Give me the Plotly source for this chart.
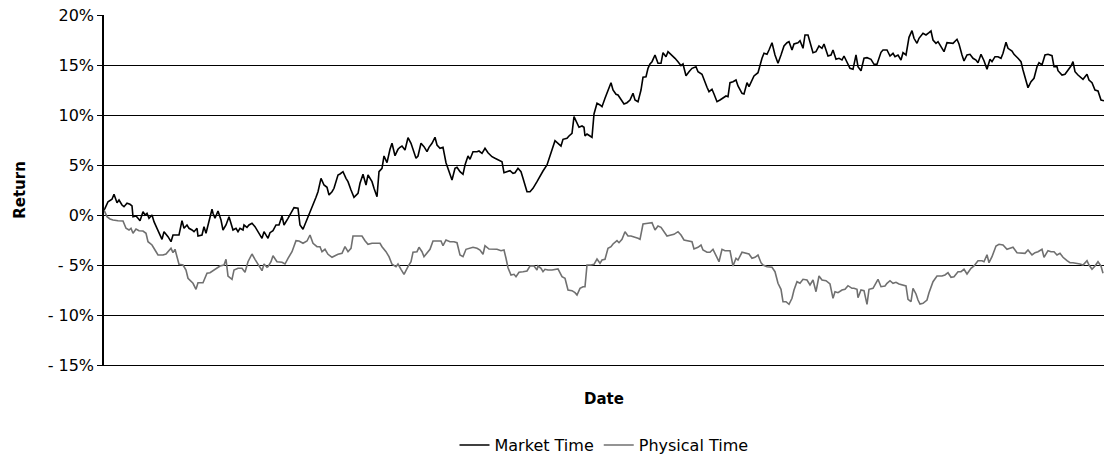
import plotly.graph_objects as go

# Trading-day index (x) and cumulative returns (%)
market_day = [0, 1, 4, 8, 10, 13, 15, 18, 20, 23, 26, 28, 29, 32, 34, 36, 39, 41, 43, 45, 48, 50, 53, 55, 58, 60, 63, 64, 67, 69, 72, 75, 78, 80, 83, 85, 88, 90, 93, 94, 98, 100, 102, 104, 108, 109, 111, 114, 117, 119, 122, 125, 127, 129, 132, 134, 136, 139, 140, 143, 145, 148, 151, 154, 158, 160, 163,
              164, 166, 169, 172, 175, 178, 180, 184, 187, 190, 194, 196, 199, 203, 206, 209, 212, 214, 217, 220, 223, 225, 228, 230, 234, 236, 239, 242, 244, 247, 250, 254, 256, 259, 262, 264, 268, 270, 273, 275, 278, 280, 283, 286, 288, 291, 294, 296, 298, 301, 304, 307, 309, 312, 314, 317, 320, 323, 325, 328, 331,
              333, 336, 339, 342, 344, 348, 351, 353, 356, 359, 361, 364, 366, 369, 373, 375, 378, 381, 384, 388, 391, 394, 398, 400, 403, 406, 409, 411, 414, 417, 419, 423, 426, 429, 433, 436, 439, 443, 446, 449, 451, 454, 457, 459, 463, 465, 468, 470, 473, 475, 478, 480, 481, 483, 486, 488, 490, 493, 496,
              498, 501, 504, 507, 509, 512, 514, 517, 520, 523, 526, 529, 531, 534, 537, 539, 542, 544, 546, 548, 551, 554, 557, 559, 562, 564, 568, 571, 574, 577, 579, 582, 585, 588, 592, 594, 598, 600, 603, 605, 608, 610, 613, 616, 619, 622, 624, 626, 629, 632, 634, 638, 640, 643, 645, 648, 650, 654, 656, 658, 660,
              663, 665, 668, 671, 674, 677, 680, 683, 685, 688, 690, 694, 696, 699, 701, 704, 707, 709, 712, 715, 718, 720, 724, 727, 729, 732, 735, 738, 740, 743, 746, 749, 752, 754, 757, 760, 763, 767, 770, 773, 777, 779, 783, 786, 789, 791, 794, 797, 799, 802, 805, 808, 810, 813, 815, 819, 822, 825,
              827, 829, 832, 834, 837, 840, 843, 847, 849, 853, 855, 858, 860, 863, 866, 869, 872, 874, 877, 880, 883, 886, 888, 891, 894, 897, 899, 902, 904, 908, 910, 914, 917, 919, 922, 924, 927, 930, 933, 935, 938, 941, 944, 948, 950, 953, 954, 958, 961, 964, 967, 969, 971, 974, 977, 979, 983, 985, 988, 991, 994, 997, 1000]
market_ret = [0.5, 0.67, 1.33, 1.57, 2.07, 1.23, 1.5, 1.0, 0.83, 1.17, 1.07, 0.9, -0.17, -0.1, -0.33, -0.57, 0.33, 0.0, 0.17, -0.33, 0.0, -0.67, -1.33, -1.77, -2.43, -1.67, -2.0, -2.17, -2.67, -2.0, -2.0, -2.0, -0.57, -1.33, -1.0, -1.33, -1.5, -1.67, -1.33, -2.1, -2.0, -1.17, -1.83, -1.0, 0.57, 0.17, -0.33, 0.4, -0.5, -1.5, -1.0, -0.17, -0.83, -1.5, -1.33, -1.67, -1.33, -1.5, -1.0, -1.23, -1.0, -0.83, -1.17, -1.67, -2.33, -1.67, -2.23,
              -2.33, -1.77, -1.57, -1.0, -1.0, -0.1, -1.0, -0.33, 0.23, 0.73, 0.67, -1.0, -1.43, -0.5, 0.33, 1.0, 1.77, 2.33, 3.67, 3.0, 2.77, 2.0, 2.33, 2.67, 4.0, 4.1, 4.33, 3.67, 3.33, 2.5, 1.77, 2.17, 3.17, 4.07, 3.0, 4.0, 3.33, 2.67, 1.83, 4.33, 4.67, 5.9, 5.23, 6.57, 7.17, 5.93, 6.57, 6.77, 6.9, 6.5, 7.73, 7.17, 6.57, 5.67, 5.9, 7.17, 6.83, 6.33, 6.77, 7.17, 7.77,
              7.0, 6.67, 6.77, 5.23, 4.67, 3.5, 4.67, 4.77, 4.33, 4.07, 5.0, 5.9, 5.57, 6.33, 6.33, 6.4, 6.17, 6.67, 6.23, 5.83, 5.67, 5.5, 5.33, 4.23, 4.33, 4.43, 4.17, 4.23, 4.67, 4.33, 3.67, 2.33, 2.33, 2.67, 3.33, 3.9, 4.4, 5.0, 6.0, 6.83, 7.43, 7.17, 6.9, 7.57, 7.67, 7.9, 8.17, 9.83, 9.23, 8.77, 8.9, 8.77, 7.9, 8.1, 7.9, 7.77, 10.1, 11.17, 11.0,
              10.83, 11.67, 12.5, 13.23, 12.5, 12.07, 12.0, 11.5, 11.1, 11.23, 11.5, 12.17, 11.5, 11.33, 12.5, 13.77, 13.83, 14.67, 15.1, 15.33, 16.0, 15.17, 15.17, 16.23, 15.83, 16.33, 16.0, 15.67, 15.33, 14.93, 15.1, 13.93, 14.33, 14.67, 14.83, 14.33, 14.07, 13.5, 12.77, 12.33, 12.57, 12.1, 11.33, 11.5, 11.67, 11.9, 11.83, 13.23, 13.33, 13.5, 12.9, 12.17, 12.1, 13.23, 12.83, 13.43, 13.9, 14.23, 15.1, 15.67, 16.17,
              16.07, 16.5, 17.23, 16.0, 15.17, 16.0, 16.9, 17.23, 17.33, 16.5, 17.1, 17.23, 17.43, 16.67, 18.0, 18.0, 17.0, 16.23, 16.33, 16.9, 16.67, 17.1, 15.9, 16.0, 16.5, 15.57, 15.67, 15.5, 15.9, 15.33, 14.67, 14.57, 16.0, 14.83, 14.43, 15.67, 15.73, 15.57, 15.07, 15.07, 16.27, 16.5, 16.5, 15.9, 16.17, 15.83, 16.0, 15.5, 16.23, 16.0, 17.77, 18.43, 17.67, 17.17, 17.67, 18.17, 18.0, 18.23,
              18.4, 17.5, 17.17, 17.33, 16.83, 16.33, 17.23, 17.17, 17.17, 17.57, 17.1, 16.0, 15.4, 16.0, 16.07, 15.67, 15.5, 15.23, 16.07, 15.43, 14.57, 15.57, 15.33, 15.83, 15.83, 15.67, 16.17, 17.27, 16.67, 16.4, 16.07, 15.67, 15.33, 14.5, 13.33, 12.73, 13.33, 13.67, 14.83, 15.23, 15.0, 16.0, 16.07, 15.93, 14.83, 14.83, 14.43, 14.0, 14.07, 14.43, 14.9, 15.33, 14.33, 14.0, 13.73, 13.57, 14.07, 13.5, 13.23, 12.5, 12.4, 11.5, 11.43]

physical_day = [0, 3, 6, 9, 14, 19, 22, 25, 27, 29, 32, 35, 39, 42, 44, 48, 51, 54, 59, 62, 67, 69, 71, 75, 79, 82, 84, 87, 89, 92, 94, 99, 103, 106, 109, 113, 116, 120, 122, 124, 128, 130, 134, 138, 141, 144, 148, 151, 154, 158, 160, 163,
                164, 167, 169, 173, 178, 181, 184, 188, 192, 195, 199, 203, 206, 209, 213, 216, 218, 221, 224, 228, 231, 234, 238, 241, 244, 247, 249, 254, 258, 261, 264, 268, 273, 276, 278, 282, 285, 288, 292, 294, 297, 300, 304, 307, 309, 313, 315, 318, 320, 323, 326, 329, 331,
                333, 337, 339, 342, 346, 350, 353, 356, 359, 362, 366, 369, 373, 376, 379, 381, 385, 389, 393, 397, 400, 402, 404, 407, 410, 412, 415, 419, 423, 426, 430, 433, 434, 437, 439, 441, 444, 448, 452, 454, 458, 461, 464, 468, 471, 473, 476, 479, 481, 483, 487, 490, 493, 496,
                498, 501, 504, 507, 509, 513, 515, 518, 521, 524, 527, 530, 534, 536, 539, 544, 548, 551, 554, 557, 559, 563, 567, 570, 574, 577, 580, 584, 588, 590, 594, 597, 599, 603, 606, 609, 613, 615, 618, 621, 626, 629, 632, 634, 638, 641, 645, 648, 651, 654, 657, 659,
                663, 668, 671, 674, 677, 679, 682, 685, 688, 690, 693, 696, 699, 703, 706, 709, 712, 715, 718, 722, 726, 729, 731, 734, 738, 741, 744, 748, 750, 753, 754, 757, 760, 763, 765, 769, 772, 774, 777, 781, 783, 786, 789, 792, 795, 799, 802, 804, 807, 809, 812, 814, 816, 819, 823, 825,
                829, 833, 838, 841, 844, 847, 850, 854, 857, 860, 863, 867, 870, 874, 878, 880, 883, 885, 888, 892, 895, 899, 903, 906, 909, 913, 917, 921, 924, 928, 931, 934, 938, 940, 944, 947, 950, 953, 956, 959, 963, 966, 969, 973, 976, 979, 983, 985, 988, 991, 994, 997, 999]
physical_ret = [0.5, -0.17, -0.4, -0.5, -0.57, -0.6, -1.33, -1.5, -1.33, -1.83, -1.4, -1.57, -1.6, -1.83, -2.67, -3.0, -3.5, -4.0, -4.0, -3.9, -3.33, -3.77, -3.43, -4.93, -5.0, -5.5, -6.33, -6.67, -6.83, -7.43, -6.77, -6.77, -5.83, -5.77, -5.57, -5.23, -5.1, -5.0, -4.43, -6.1, -6.43, -5.5, -5.33, -5.33, -5.73, -4.67, -3.9, -4.43, -4.9, -5.57, -4.9, -5.23,
                -5.17, -4.67, -4.07, -4.67, -4.73, -4.9, -4.33, -3.67, -2.57, -2.6, -2.83, -2.6, -2.0, -2.83, -3.17, -3.17, -3.67, -3.43, -3.93, -4.23, -4.07, -3.93, -3.83, -3.17, -3.67, -3.33, -2.1, -2.1, -2.1, -2.57, -2.93, -2.83, -2.83, -2.83, -3.17, -3.67, -4.17, -4.93, -5.17, -4.9, -5.43, -5.93, -5.17, -4.67, -3.73, -3.67, -3.23, -3.67, -4.17, -3.77, -3.43, -2.6, -2.57,
                -2.6, -2.6, -3.07, -2.5, -2.67, -2.67, -2.77, -4.0, -4.17, -3.43, -3.33, -3.23, -3.33, -3.5, -3.93, -3.07, -3.4, -3.4, -3.43, -3.57, -3.5, -4.33, -5.27, -6.0, -5.93, -6.17, -5.73, -5.67, -5.6, -5.1, -5.1, -5.5, -5.1, -5.33, -5.67, -5.43, -5.5, -5.5, -5.4, -5.4, -6.17, -6.33, -7.5, -7.57, -7.77, -8.0, -7.33, -7.17, -7.17, -5.0, -5.0, -4.93, -4.4, -4.83,
                -4.5, -4.43, -3.33, -3.17, -2.9, -2.57, -2.77, -2.43, -1.67, -2.1, -2.1, -2.17, -2.33, -2.43, -0.9, -0.83, -0.77, -1.5, -1.1, -1.23, -1.5, -2.1, -2.0, -1.93, -1.67, -2.0, -2.5, -2.57, -2.67, -3.4, -3.23, -3.0, -3.5, -3.73, -3.73, -3.43, -4.33, -4.67, -3.43, -3.57, -3.57, -5.1, -4.33, -4.5, -3.73, -3.83, -3.9, -4.33, -4.23, -4.0, -4.77, -5.0,
                -5.17, -5.23, -5.67, -6.83, -7.43, -8.67, -8.67, -8.93, -8.33, -7.5, -6.67, -6.83, -6.43, -6.5, -7.0, -6.5, -7.67, -6.1, -6.5, -6.57, -6.9, -8.33, -7.67, -7.77, -7.5, -7.43, -7.07, -7.33, -7.33, -7.43, -8.27, -7.5, -7.57, -8.93, -7.43, -7.33, -6.83, -6.43, -7.17, -7.1, -6.83, -6.57, -6.83, -6.73, -6.9, -7.0, -7.1, -8.43, -8.67, -7.33, -7.9, -8.5, -8.9, -8.83, -8.5, -7.77,
                -6.67, -6.1, -6.1, -6.0, -5.77, -6.23, -6.17, -5.67, -5.67, -5.43, -5.9, -5.33, -5.1, -4.57, -4.57, -4.67, -3.97, -4.77, -4.17, -3.1, -2.93, -3.0, -3.43, -3.33, -3.23, -3.77, -3.77, -3.83, -3.5, -4.0, -3.77, -3.67, -3.43, -4.23, -3.57, -3.67, -3.67, -4.0, -3.83, -4.23, -4.57, -4.77, -4.77, -4.83, -4.9, -5.0, -4.57, -5.0, -5.43, -5.1, -4.67, -5.1, -5.83]

y_tickvals = [20, 15, 10, 5, 0, -5, -10, -15]
y_ticktext = ["20%", "15%", "10%", "5%", "0%", "- 5%", "- 10%", "- 15%"]

FONT = "DejaVu Sans, Liberation Sans, Arial, sans-serif"

fig = go.Figure()
fig.add_trace(go.Scatter(x=market_day, y=market_ret, mode="lines", name="Market Time",
                         line=dict(color="#000000", width=1.6)))
fig.add_trace(go.Scatter(x=physical_day, y=physical_ret, mode="lines", name="Physical Time",
                         line=dict(color="#707070", width=1.6)))

fig.update_layout(
    width=1104, height=457,
    margin=dict(l=104, r=0, t=15, b=92, autoexpand=False),
    paper_bgcolor="white", plot_bgcolor="white",
    font=dict(family=FONT, size=16, color="#000000"),
    showlegend=True,
    legend=dict(orientation="h", x=0.5, xanchor="center", y=-0.229, yanchor="middle",
                font=dict(size=16), itemwidth=30, tracegroupgap=0),
    xaxis=dict(range=[0, 1000], showgrid=False, zeroline=False, showticklabels=False,
               ticks="", showline=True, linecolor="#000000", linewidth=1,
               title=dict(text="<b>Date</b>", font=dict(size=15), standoff=28)),
    yaxis=dict(range=[-15, 20], tickvals=y_tickvals, ticktext=y_ticktext,
               showgrid=True, gridcolor="#000000", gridwidth=1, zeroline=False,
               showline=True, linecolor="#000000", linewidth=1.5,
               ticks="outside", ticklen=5, tickcolor="#000000",
               tickfont=dict(size=16),
               title=dict(text="<b>Return</b>", font=dict(size=15), standoff=18)),
)

fig.write_html("out.html", config={"displayModeBar": False},
               post_script="document.body.style.margin='0';document.body.style.padding='0';")
